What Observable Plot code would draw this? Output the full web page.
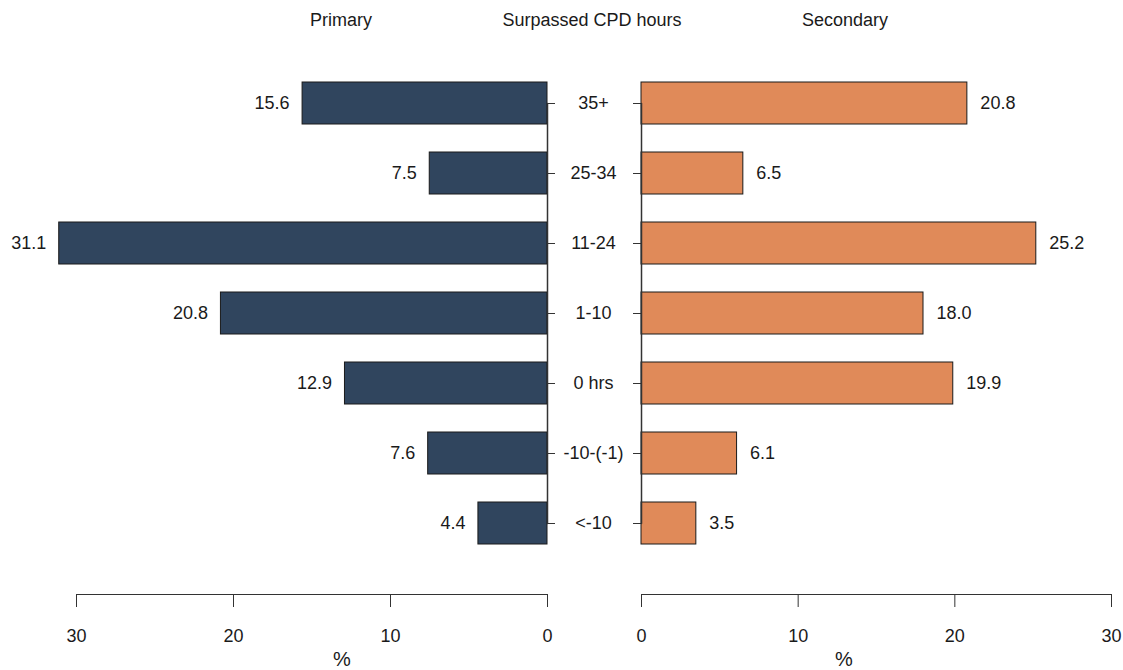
<!DOCTYPE html>
<html>
<head>
<meta charset="utf-8">
<script src="https://cdn.jsdelivr.net/npm/d3@7"></script>
<script src="https://cdn.jsdelivr.net/npm/@observablehq/plot@0.6"></script>
<style>
  html, body { margin: 0; padding: 0; background: #fff; overflow: hidden; }
  #wrap { position: relative; width: 1123px; height: 670px; overflow: hidden; font-family: "Liberation Sans", Arial, sans-serif; color: #1a1a1a; }
  .lbl { position: absolute; font-size: 18px; transform: translate(-50%, -50%); white-space: nowrap; }
  .pct { font-size: 20px; line-height: 1; }
  .plot-holder { position: absolute; top: 0; }
</style>
</head>
<body>
<div id="wrap">
  <div class="lbl" style="left:341px; top:20px;">Primary</div>
  <div class="lbl" style="left:592px; top:20px;">Surpassed CPD hours</div>
  <div class="lbl" style="left:845px; top:20px;">Secondary</div>
  <div class="lbl pct" style="left:342px; top:659px;">%</div>
  <div class="lbl pct" style="left:844px; top:659px;">%</div>
  <div id="left" class="plot-holder" style="left:0px;"></div>
  <div id="right" class="plot-holder" style="left:620px;"></div>
</div>
<script>
const categories = ["35+", "25-34", "11-24", "1-10", "0 hrs", "-10-(-1)", "<-10"];
const primary = [15.6, 7.5, 31.1, 20.8, 12.9, 7.6, 4.4];
const secondary = [20.8, 6.5, 25.2, 18.0, 19.9, 6.1, 3.5];
const xTicks = [0, 10, 20, 30];

const primaryData = categories.map((c, i) => ({cat: c, v: primary[i]}));
const secondaryData = categories.map((c, i) => ({cat: c, v: secondary[i]}));

const FONT = "Liberation Sans, Arial, sans-serif";
const yScale = {domain: categories, range: [52.9, 572.4], padding: 0.4};
const commonStyle = {fontFamily: FONT, fontSize: "18px", background: "transparent", overflow: "visible", color: "#1a1a1a"};

const leftPlot = Plot.plot({
  width: 641, height: 670,
  marginLeft: 76, marginRight: 94, marginTop: 52.9, marginBottom: 76,
  style: commonStyle,
  x: {domain: [30, 0], range: [76, 547]},
  y: yScale,
  marks: [
    Plot.barX(primaryData, {x1: 0, x2: "v", y: "cat", fill: "#30455e", stroke: "#1a1a1a", strokeWidth: 1}),
    Plot.line(categories, {x: () => 0, y: d => d, stroke: "#333"}),
    Plot.axisY({anchor: "right", tickSize: 7, tickFormat: () => "", label: null, stroke: "#333"}),
    Plot.text(categories, {y: d => d, frameAnchor: "right", dx: 46, textAnchor: "middle", fontSize: 18}),
    Plot.text(primaryData, {x: "v", y: "cat", text: d => d.v.toFixed(1), textAnchor: "end", dx: -13, fontSize: 18}),
    Plot.frame({anchor: "bottom", stroke: "#333"}),
    Plot.axisX({ticks: xTicks, tickSize: 13, tickPadding: 22, fontSize: 18, label: null, stroke: "#333"})
  ]
});
document.getElementById("left").appendChild(leftPlot);

const rightPlot = Plot.plot({
  width: 503, height: 670,
  marginLeft: 21, marginRight: 12, marginTop: 52.9, marginBottom: 76,
  style: commonStyle,
  x: {domain: [0, 30], range: [21, 491]},
  y: yScale,
  marks: [
    Plot.barX(secondaryData, {x1: 0, x2: "v", y: "cat", fill: "#e08a59", stroke: "#1a1a1a", strokeWidth: 1}),
    Plot.line(categories, {x: () => 0, y: d => d, stroke: "#333"}),
    Plot.axisY({anchor: "left", tickSize: 8, tickFormat: () => "", label: null, stroke: "#333"}),
    Plot.text(secondaryData, {x: "v", y: "cat", text: d => d.v.toFixed(1), textAnchor: "start", dx: 13, fontSize: 18}),
    Plot.frame({anchor: "bottom", stroke: "#333"}),
    Plot.axisX({ticks: xTicks, tickSize: 13, tickPadding: 22, fontSize: 18, label: null, stroke: "#333"})
  ]
});
document.getElementById("right").appendChild(rightPlot);
</script>
</body>
</html>
